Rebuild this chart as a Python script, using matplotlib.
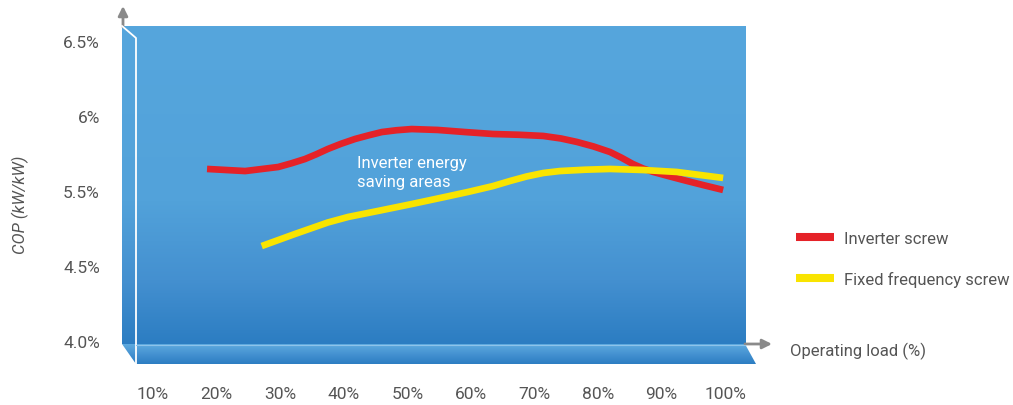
import matplotlib
matplotlib.use('Agg')
from matplotlib import pyplot as plt
from matplotlib.colors import LinearSegmentedColormap
from matplotlib.patches import Polygon, FancyArrowPatch
from matplotlib.lines import Line2D
import matplotlib.transforms as mtransforms
import numpy as np

plt.rcParams['font.family'] = ['Roboto', 'DejaVu Sans']

# data (load %, COP)
load_inv = [18.5, 24.5, 29.7, 31.8, 33.9, 35.7, 37.5, 39.6, 41.8, 44.0, 46.0,
            48.3, 50.7, 54.8, 59.1, 63.5, 67.5, 71.4, 74.2, 76.7, 79.3, 81.9,
            83.7, 85.5, 87.1, 88.7, 91.3, 94.0, 96.8, 99.7]
cop_inv = [5.647, 5.633, 5.66, 5.685, 5.713, 5.745, 5.78, 5.815, 5.847, 5.872,
           5.893, 5.905, 5.913, 5.907, 5.893, 5.88, 5.875, 5.867, 5.85, 5.827,
           5.797, 5.76, 5.722, 5.68, 5.65, 5.627, 5.597, 5.567, 5.537, 5.507]
load_fix = [27.1, 32.3, 37.5, 40.7, 45.4, 50.7, 55.9, 59.7, 63.5, 66.2,
            68.8, 71.4, 74.0, 78.0, 81.9, 87.1, 92.4, 99.7]
cop_fix = [5.133, 5.213, 5.29, 5.327, 5.367, 5.413, 5.46, 5.495, 5.533, 5.567,
           5.597, 5.62, 5.633, 5.642, 5.647, 5.64, 5.627, 5.587]

x_ticks = [10, 20, 30, 40, 50, 60, 70, 80, 90, 100]
x_labels = ['10%', '20%', '30%', '40%', '50%', '60%', '70%', '80%', '90%', '100%']
y_ticks = [4.5, 5.0, 5.5, 6.0, 6.5]
y_labels = ['4.0%', '4.5%', '5.5%', '6%', '6.5%']

W, H = 1013, 406
fig = plt.figure(figsize=(W / 100, H / 100), dpi=100)
# transform in image pixels (origin top-left)
pix = mtransforms.Affine2D().scale(1.0 / W, -1.0 / H).translate(0, 1) + fig.transFigure


def box(x0, y0, x1, y1):
    return [x0 / W, 1 - y1 / H, (x1 - x0) / W, (y1 - y0) / H]


panel_cmap = LinearSegmentedColormap.from_list(
    'panel', [(0.0, '#56a6dd'), (0.55, '#52a2da'), (0.8, '#4490d0'), (1.0, '#2c7dc2')])
slab_cmap = LinearSegmentedColormap.from_list(
    'slab', [(0.0, '#5eaadf'), (0.5, '#4592d1'), (1.0, '#2c7dc2')])
grad = np.linspace(0, 1, 256).reshape(-1, 1)

# bottom slab
sax = fig.add_axes(box(122, 345, 756, 365))
sax.axis('off')
im = sax.imshow(grad, extent=(122, 756, 365, 345), cmap=slab_cmap, aspect='auto')
slab = Polygon([(122, 345), (745, 345), (756, 365), (136, 365)], closed=True,
               transform=sax.transData, facecolor='none', edgecolor='none')
sax.add_patch(slab)
im.set_clip_path(slab)
sax.set_xlim(122, 756)
sax.set_ylim(365, 345)

# main panel
ax = fig.add_axes(box(122, 27, 745, 345))
ax.imshow(grad, extent=(0, 1, 0, 1), transform=ax.transAxes, cmap=panel_cmap,
          aspect='auto', zorder=0)
ax.set_xlim(5.12, 103.14)
ax.set_ylim(4.48, 6.6)
for s in ax.spines.values():
    s.set_visible(False)

l1, = ax.plot(load_inv, cop_inv, color='#e52228', lw=4.8, solid_capstyle='butt',
              solid_joinstyle='round', label='Inverter screw', zorder=3)
l2, = ax.plot(load_fix, cop_fix, color='#f9e400', lw=4.8, solid_capstyle='butt',
              solid_joinstyle='round', label='Fixed frequency screw', zorder=3)

ax.set_xticks(x_ticks, x_labels)
ax.set_yticks(y_ticks, y_labels)
ax.tick_params(axis='x', length=0, pad=30, labelsize=12.5, labelcolor='#555555')
ax.tick_params(axis='y', length=0, pad=16, labelsize=12.5, labelcolor='#555555')

# edges of the 3d box
fig.add_artist(Line2D([122, 136, 136], [27, 39, 365], transform=pix,
                      color='white', lw=1.3))
fig.add_artist(Line2D([136, 745], [345.5, 345.5], transform=pix,
                      color='#8ec3ea', lw=0.8))

# axis arrows
fig.add_artist(FancyArrowPatch((123, 28), (123, 7), transform=pix,
                               arrowstyle='-|>', mutation_scale=14,
                               color='#8a8a8a', lw=2, shrinkA=0, shrinkB=0))
fig.add_artist(FancyArrowPatch((745, 345), (772, 345), transform=pix,
                               arrowstyle='-|>', mutation_scale=14,
                               color='#8a8a8a', lw=2, shrinkA=0, shrinkB=0))

fig.text(20, 205, 'COP (kW/kW)', transform=pix, rotation=90, style='italic',
         fontsize=12, color='#555555', ha='center', va='center')
fig.text(790, 351, 'Operating load (%)', transform=pix, fontsize=12,
         color='#555555', ha='left', va='center')
fig.text(357, 173, 'Inverter energy\nsaving areas', transform=pix, fontsize=12,
         color='white', ha='left', va='center', linespacing=1.4)

leg = fig.legend(handles=[l1, l2], loc='center left',
                 bbox_to_anchor=(796 / W, 1 - 260 / H), bbox_transform=fig.transFigure,
                 frameon=False, borderpad=0, borderaxespad=0, handlelength=2.25,
                 handletextpad=0.65, labelspacing=1.5, fontsize=12,
                 labelcolor='#555555')
for h in leg.legend_handles:
    h.set_linewidth(5.8)

plt.savefig('out.png', dpi=100)
